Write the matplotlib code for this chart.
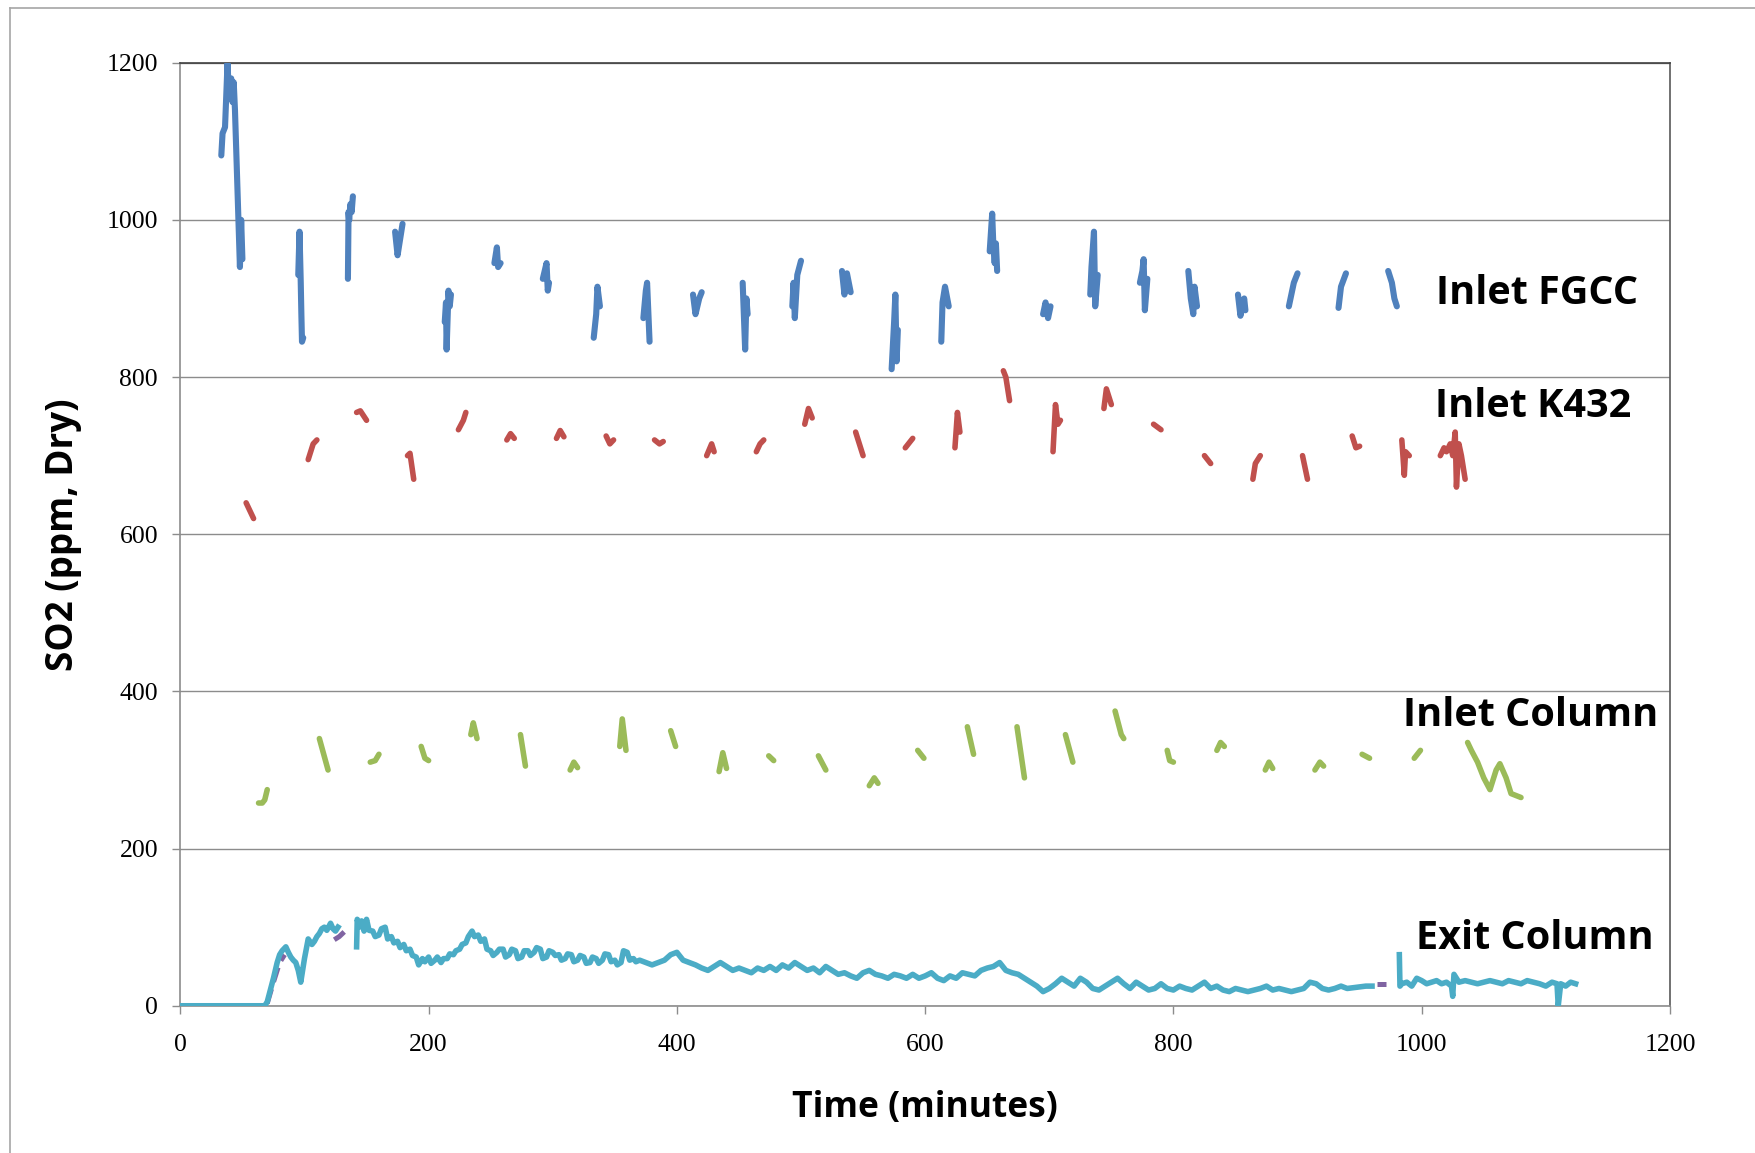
import numpy as np
import matplotlib.pyplot as plt
from matplotlib.lines import Line2D

# ---- data: each series is a list of short runs (x in minutes, y in ppm)
fgcc_x = [[33, 34, 36, 38, 39, 41, 42, 43, 44, 46, 48, 49, 50],
          [95, 96, 97, 97.5, 98, 99],
          [135, 135.5, 136, 137, 138, 139],
          [173, 175, 177, 179],
          [213, 214, 214.5, 216, 217, 218],
          [253, 255, 256, 258],
          [292, 295, 296, 297],
          [333, 335, 336, 338],
          [373, 375, 376, 378],
          [413, 415, 418, 420],
          [453, 455, 456, 457],
          [493, 494, 495, 497, 500],
          [533, 535, 537, 540],
          [573, 575, 576, 577, 578],
          [613, 614, 616, 619],
          [652, 654, 655, 656, 657, 658],
          [695, 697, 699, 701],
          [733, 734, 736, 737, 739],
          [773, 775, 776, 777, 779],
          [812, 814, 816, 817, 819],
          [852, 854, 857, 858],
          [893, 897, 900],
          [933, 935, 939],
          [973, 976, 978, 980]]
fgcc_y = [[1082, 1110, 1118, 1199, 1165, 1180, 1150, 1175, 1140, 1040, 940, 1000, 950],
          [930, 985, 920, 880, 845, 850],
          [925, 1010, 1000, 1020, 1010, 1030],
          [985, 955, 975, 995],
          [870, 895, 835, 910, 890, 905],
          [945, 965, 940, 945],
          [925, 945, 910, 920],
          [850, 880, 915, 890],
          [875, 910, 920, 845],
          [905, 880, 900, 908],
          [920, 835, 900, 880],
          [890, 920, 875, 930, 948],
          [935, 905, 932, 908],
          [810, 870, 905, 820, 860],
          [845, 895, 915, 890],
          [960, 1008, 965, 945, 970, 935],
          [880, 895, 875, 890],
          [905, 940, 985, 890, 930],
          [920, 935, 950, 885, 925],
          [935, 900, 880, 915, 890],
          [905, 878, 900, 885],
          [890, 920, 932],
          [888, 915, 932],
          [935, 920, 900, 890]]

k432_x = [[53, 56, 59], [103, 107, 110], [142, 145, 150], [183, 185, 188],
          [224, 228, 230], [263, 266, 269], [303, 306, 309], [343, 346, 349],
          [382, 386, 389], [424, 428, 430], [464, 467, 470], [503, 506, 509],
          [544, 550], [584, 590], [624, 626, 628], [663, 665, 668],
          [703, 705, 707, 709], [744, 746, 750], [784, 790], [825, 830],
          [864, 866, 870], [904, 908], [944, 947, 950], [984, 986, 987, 990],
          [1015, 1018, 1020, 1023, 1025, 1027, 1028, 1030, 1032, 1035]]
k432_y = [[640, 630, 620], [695, 715, 720], [755, 757, 745], [700, 703, 670],
          [733, 745, 755], [720, 728, 722], [722, 732, 724], [725, 715, 720],
          [720, 715, 718], [700, 715, 705], [705, 715, 720], [740, 760, 748],
          [730, 700], [710, 722], [710, 755, 730], [808, 800, 770],
          [705, 765, 740, 745], [760, 785, 765], [740, 733], [700, 690],
          [670, 690, 700], [700, 670], [725, 710, 712], [720, 675, 705, 700],
          [700, 710, 705, 715, 700, 730, 660, 715, 700, 670]]

col_x = [[63, 66, 68, 70], [112, 119], [153, 157, 160], [194, 197, 200],
         [234, 236, 239], [274, 278], [314, 317, 320], [354, 356, 359],
         [395, 399], [434, 437, 440], [474, 478], [514, 520],
         [555, 559, 562], [594, 599], [634, 639], [674, 680], [713, 719],
         [753, 758, 760], [795, 797, 800], [835, 838, 841], [874, 877, 880],
         [914, 918, 921], [952, 958], [994, 999],
         [1037, 1040, 1045, 1050, 1055, 1060, 1063, 1068, 1072, 1080]]
col_y = [[258, 258, 262, 275], [340, 300], [310, 312, 320], [330, 315, 312],
         [345, 360, 340], [345, 305], [300, 310, 303], [330, 365, 325],
         [350, 330], [298, 322, 302], [318, 312], [318, 300],
         [280, 290, 283], [325, 315], [355, 320], [355, 290], [345, 310],
         [375, 345, 340], [325, 312, 310], [325, 335, 330], [300, 310, 302],
         [300, 310, 305], [320, 315], [315, 325],
         [335, 325, 310, 290, 275, 300, 308, 290, 270, 265]]

exit_x = [[0, 68, 70, 75, 78, 80, 82, 85, 87, 89, 91, 93, 95, 97, 100, 103, 106, 108, 110,
           112, 114, 116, 118, 121, 123, 125, 127],
          [142, 142.5, 144, 146, 148, 150, 152, 155, 157, 160, 162, 165, 167, 170, 172, 175,
           177, 180, 182, 185, 187, 190, 192, 195, 197, 200, 202, 205, 207, 210, 212,
           215, 217, 220, 222, 225, 227, 230, 232, 235, 237, 240, 242, 245, 247, 250, 252,
           255, 257, 260, 262, 265, 267, 270, 272, 275, 277, 280, 282, 285, 287, 290, 292,
           295, 297, 300, 302, 305, 307, 310, 312, 315, 317, 320, 322, 325, 327, 330, 332,
           335, 337, 340, 342, 345, 347, 350, 352, 355, 357, 360, 362, 365, 367, 370,
           375, 380, 385, 390, 395, 400, 405, 410, 415, 420, 425, 430, 435, 440, 445, 450,
           455, 460, 465, 470, 475, 480, 485, 490, 495, 500, 505, 510, 515, 520, 525, 530,
           535, 540, 545, 550, 555, 560, 565, 570, 575, 580, 585, 590, 595, 600, 605, 610,
           615, 620, 625, 630, 635, 640, 645, 650, 655, 660, 665, 670, 675, 680, 685, 690,
           695, 700, 705, 710, 715, 720, 725, 730, 735, 740, 745, 750, 755, 760, 765, 770,
           775, 780, 785, 790, 795, 800, 805, 810, 815, 820, 825, 830, 835, 840, 845, 850,
           855, 860, 865, 870, 875, 880, 885, 890, 895, 900, 905, 910, 915, 920, 925, 930,
           935, 940, 945, 950, 955, 960],
          [982, 982.5, 984, 988, 992, 996, 1000, 1004, 1008, 1012, 1016, 1020, 1024, 1025,
           1026, 1030, 1035, 1040, 1045, 1050, 1055, 1060, 1065, 1070, 1075, 1080, 1085,
           1090, 1095, 1100, 1105, 1109, 1110, 1112, 1116, 1120, 1124]]
exit_y = [[0, 0, 5, 35, 55, 65, 70, 75, 68, 62, 58, 55, 45, 30, 60, 85, 78, 82, 88,
           92, 98, 100, 96, 105, 98, 95, 100],
          [75, 110, 100, 108, 95, 110, 96, 95, 88, 90, 98, 100, 85, 88, 80, 82,
           74, 78, 70, 72, 64, 62, 52, 60, 56, 62, 54, 58, 62, 55, 60,
           60, 66, 65, 70, 72, 78, 80, 88, 95, 88, 90, 82, 85, 72, 70, 64,
           68, 72, 72, 62, 65, 72, 70, 60, 62, 70, 70, 64, 68, 74, 72, 60,
           62, 70, 68, 64, 65, 58, 60, 66, 65, 56, 58, 64, 62, 54, 55, 62,
           60, 54, 58, 66, 65, 56, 58, 52, 55, 70, 68, 58, 60, 56, 58,
           55, 52, 55, 58, 65, 68, 58, 55, 52, 48, 45, 50, 55, 50, 45, 48,
           45, 42, 48, 45, 50, 45, 52, 48, 55, 50, 45, 48, 42, 50, 45, 40,
           42, 38, 35, 42, 45, 40, 38, 35, 40, 38, 35, 40, 35, 38, 42, 35,
           32, 38, 35, 42, 40, 38, 45, 48, 50, 55, 45, 42, 40, 35, 30, 25,
           18, 22, 28, 35, 30, 25, 35, 30, 22, 20, 25, 30, 35, 28, 22, 30,
           25, 20, 22, 28, 22, 20, 25, 22, 20, 25, 30, 22, 25, 20, 18, 22,
           20, 18, 20, 22, 25, 20, 22, 20, 18, 20, 22, 30, 28, 22, 20, 22,
           25, 22, 23, 24, 25, 25],
          [65, 25, 28, 30, 25, 35, 32, 28, 30, 32, 28, 30, 25, 12, 40,
           30, 32, 30, 28, 30, 32, 30, 28, 32, 30, 28, 32,
           30, 28, 25, 30, 28, 0, 28, 25, 30, 28]]

# second exit analyser, mostly hidden under the teal trace
exit2_x = [[70, 75, 80, 84], [124, 128, 132], [964, 971]]
exit2_y = [[3, 30, 55, 65], [84, 88, 94], [28, 28]]

labels = ['Inlet FGCC', 'Inlet K432', 'Inlet Column', 'Exit Column']
label_x = [1093, 1090, 1088, 1091]
label_y = [906, 763, 369, 86]

xticks = [0, 200, 400, 600, 800, 1000, 1200]
yticks = [0, 200, 400, 600, 800, 1000, 1200]

blue = '#4F81BD'
red = '#C0504D'
green = '#9BBB59'
teal = '#4BACC6'
purple = '#8064A2'

fig = plt.figure(figsize=(17.56, 11.53), dpi=100)
ax = fig.add_axes([0.1027, 0.1277, 0.8483, 0.8179])

# figure border (top / left edges of the pasted chart frame)
fig.add_artist(Line2D([0.0057, 1.0], [0.993, 0.993], color='#A6A6A6', lw=1.2))
fig.add_artist(Line2D([0.0057, 0.0057], [0.0, 0.993], color='#A6A6A6', lw=1.2))

for xs, ys in zip(exit2_x, exit2_y):
    ax.plot(xs, ys, color=purple, lw=3.6, ls=(0, (3, 1.5)), solid_capstyle='round', zorder=3)
for xs, ys in zip(exit_x, exit_y):
    ax.plot(xs, ys, color=teal, lw=4.0, solid_joinstyle='round', zorder=4)
for xs, ys in zip(col_x, col_y):
    ax.plot(xs, ys, color=green, lw=4.0, solid_capstyle='round', zorder=4)
for xs, ys in zip(k432_x, k432_y):
    ax.plot(xs, ys, color=red, lw=4.0, solid_capstyle='round', zorder=4)
for xs, ys in zip(fgcc_x, fgcc_y):
    ax.plot(xs, ys, color=blue, lw=4.4, solid_capstyle='round', zorder=4)

for t, lx, ly in zip(labels, label_x, label_y):
    ax.text(lx, ly, t, ha='center', va='center', fontsize=28.5,
            fontweight='bold', family='Open Sans', color='black', zorder=5)

ax.set_xlim(0, 1200)
ax.set_ylim(0, 1200)
ax.set_xticks(xticks)
ax.set_yticks(yticks)
ax.grid(axis='y', color='#8C8C8C', lw=1.0)
ax.set_axisbelow(True)

for lab in ax.get_xticklabels() + ax.get_yticklabels():
    lab.set_family('Liberation Serif')
    lab.set_fontsize(18.5)
ax.tick_params(axis='x', length=6, width=1, color='#8C8C8C', pad=14)
ax.tick_params(axis='y', length=6, width=1, color='#8C8C8C', pad=10)

ax.spines['left'].set_color('#8C8C8C')
ax.spines['bottom'].set_color('#8C8C8C')
ax.spines['top'].set_color('#404040')
ax.spines['right'].set_color('#595959')
for s in ax.spines.values():
    s.set_linewidth(1.2)

ax.set_xlabel('Time (minutes)', fontsize=25.5, fontweight='bold', family='Open Sans', labelpad=25)
ax.set_ylabel('SO2 (ppm, Dry)', fontsize=26.5, fontweight='bold', family='Open Sans', labelpad=18)

fig.savefig('out.png', dpi=100)
